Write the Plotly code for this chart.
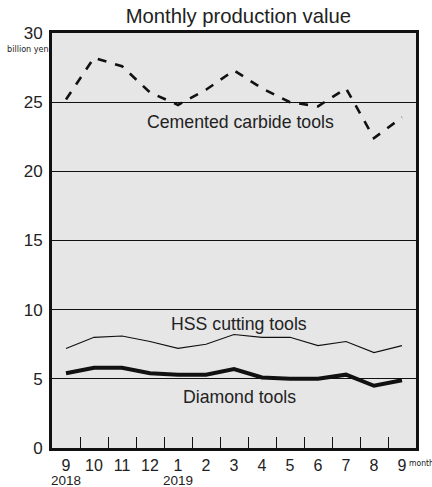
import plotly.graph_objects as go

months = ["9", "10", "11", "12", "1", "2", "3", "4", "5", "6", "7", "8", "9"]
carbide = [25.2, 28.2, 27.6, 25.7, 24.8, 25.9, 27.3, 26.0, 25.0, 24.7, 26.0, 22.4, 23.9]
hss = [7.2, 8.0, 8.1, 7.7, 7.2, 7.5, 8.2, 8.0, 8.0, 7.4, 7.7, 6.9, 7.4]
diamond = [5.4, 5.8, 5.8, 5.4, 5.3, 5.3, 5.7, 5.1, 5.0, 5.0, 5.3, 4.5, 4.9]
yticks = [0, 5, 10, 15, 20, 25, 30]

x = list(range(len(months)))
FONT = "Liberation Sans, Arial, sans-serif"
NARROW = "Liberation Sans Narrow, DejaVu Sans Condensed, sans-serif"

fig = go.Figure()
fig.add_trace(go.Scatter(x=x, y=carbide, mode="lines",
                         line=dict(color="#111", width=2.6, dash="dash"), showlegend=False))
fig.add_trace(go.Scatter(x=x, y=hss, mode="lines",
                         line=dict(color="#111", width=1.1), showlegend=False))
fig.add_trace(go.Scatter(x=x, y=diamond, mode="lines",
                         line=dict(color="#111", width=4), showlegend=False))
# invisible trace to activate secondary x axis for interior ticks
fig.add_trace(go.Scatter(x=[0], y=[0], xaxis="x2", mode="markers",
                         marker=dict(opacity=0), showlegend=False, hoverinfo="skip"))

fig.update_layout(
    width=432, height=487,
    margin=dict(l=52, r=16, t=33, b=39),
    paper_bgcolor="white", plot_bgcolor="#e6e6e6",
    font=dict(family=FONT, color="#222"),
    title=dict(text="Monthly production value", x=0.512, xanchor="center", xref="paper",
               y=0.967, yanchor="middle", font=dict(size=20.3, color="#222")),
    xaxis=dict(range=[-0.5, 12.5], tickvals=x, ticktext=months, showgrid=False,
               zeroline=False, ticks="", tickfont=dict(size=16, color="#222"),
               showline=True, linecolor="#111", linewidth=3, mirror=True,
               ticklabelstandoff=1, automargin=False),
    xaxis2=dict(range=[-0.5, 12.5], overlaying="x", side="bottom",
                tickvals=[i + 0.5 for i in range(12)], ticks="inside", ticklen=11,
                tickwidth=1.3, tickcolor="#111", showticklabels=False, showgrid=False,
                zeroline=False, showline=False, automargin=False),
    yaxis=dict(range=[0, 30], tickvals=yticks, showgrid=True, gridcolor="#111",
               gridwidth=1.2, zeroline=False, ticks="", tickfont=dict(size=17, color="#222"),
               showline=True, linecolor="#111", linewidth=3, mirror=True,
               ticklabelstandoff=3, automargin=False),
)

annos = [
    dict(x=6.22, y=23.6, text="Cemented carbide tools"),
    dict(x=6.18, y=9.0, text="HSS cutting tools"),
    dict(x=6.2, y=3.7, text="Diamond tools"),
]
for a in annos:
    fig.add_annotation(x=a["x"], y=a["y"], text=a["text"], showarrow=False,
                       font=dict(size=17.7, color="#222", family=FONT))

for xi, yr in [(0, "2018"), (4, "2019")]:
    fig.add_annotation(x=xi, y=-0.078, xref="x", yref="paper", text=yr, showarrow=False,
                       yanchor="middle", font=dict(size=13.5, color="#222", family=FONT))
fig.add_annotation(x=1.0, y=-0.036, xref="paper", yref="paper", text="month", showarrow=False,
                   xanchor="left", yanchor="middle", xshift=-8, borderpad=0,
                   font=dict(size=8.5, color="#222", family=NARROW))
fig.add_annotation(x=-0.002, y=0.962, xref="paper", yref="paper", text="billion yen", showarrow=False,
                   xanchor="right", yanchor="middle",
                   font=dict(size=9, color="#222", family=NARROW))

fig.write_html("out.html", config={"displayModeBar": False},
               post_script="document.body.style.margin='0';document.body.style.overflow='hidden';")
